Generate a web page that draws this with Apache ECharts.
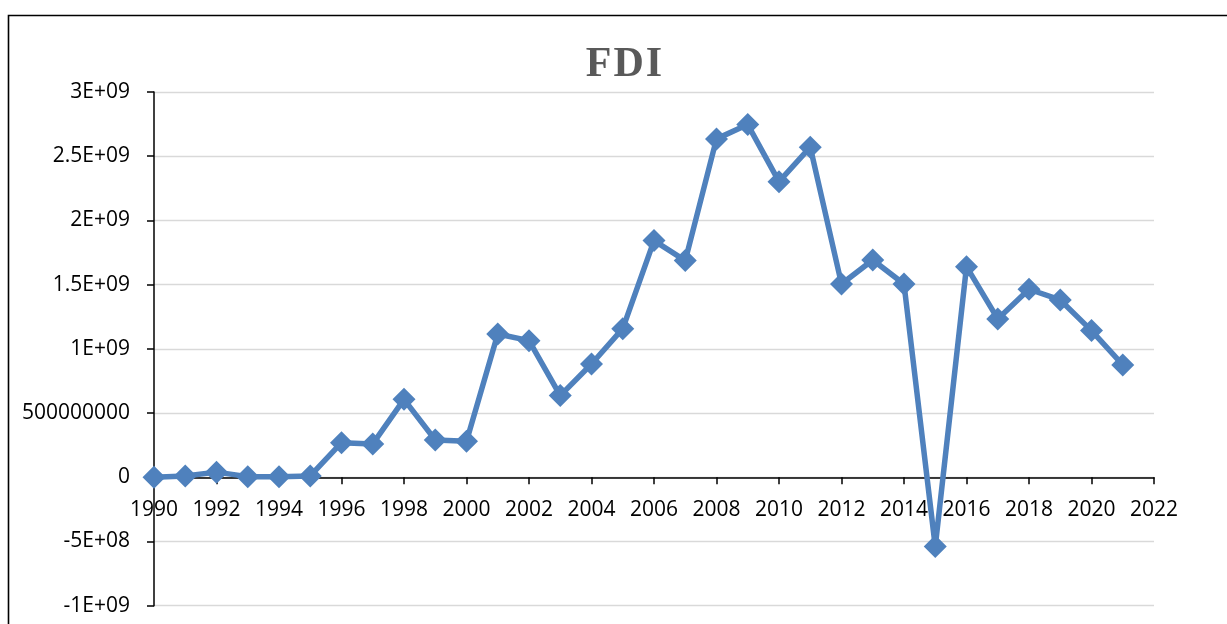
<!DOCTYPE html>
<html>
<head>
<meta charset="utf-8">
<script src="https://cdn.jsdelivr.net/npm/echarts@6/dist/echarts.min.js"></script>
<style>
html,body{margin:0;padding:0;background:#fff;}
#chart{width:1227px;height:624px;}
</style>
</head>
<body>
<div id="chart"></div>
<script>
var years = [1990,1991,1992,1993,1994,1995,1996,1997,1998,1999,2000,2001,2002,2003,2004,2005,2006,2007,2008,2009,2010,2011,2012,2013,2014,2015,2016,2017,2018,2019,2020,2021];
var fdi = [0,1e7,4e7,5e6,5e6,1e7,2.69e8,2.6e8,6.07e8,2.9e8,2.8e8,1.116e9,1.064e9,6.36e8,8.82e8,1.157e9,1.843e9,1.687e9,2.635e9,2.746e9,2.302e9,2.57e9,1.505e9,1.692e9,1.505e9,-5.4e8,1.64e9,1.233e9,1.464e9,1.381e9,1.142e9,8.75e8];
var yTickLabels = ['-1E+09','-5E+08','0','500000000','1E+09','1.5E+09','2E+09','2.5E+09','3E+09'];
var yMin = -1e9, yMax = 3e9, yStep = 5e8;
var xMin = 1990, xMax = 2022, xStep = 2;
var titleChars = ['F','D','I'];

var gridTop = 92, gridBottom = 18.3, H = 624;
var plotH = H - gridTop - gridBottom;
// distance from grid bottom up to the zero line, via the y scale
var zeroOffset = plotH * (0 - yMin) / (yMax - yMin);

var chart = echarts.init(document.getElementById('chart'), null, {renderer:'canvas'});
var pts = years.map(function(y,i){return [y, fdi[i]];});
chart.setOption({
  animation:false,
  backgroundColor:'#fff',
  title:{
    text: titleChars.map(function(c){return '{a|'+c+'}';}).join(''),
    left:619, textAlign:'center', top:39,
    textStyle:{
      rich:{a:{fontFamily:'Liberation Serif', fontWeight:'bold', fontSize:42, color:'#595959', padding:[0,1,0,1]}}
    }
  },
  grid:{left:154, right:73, top:gridTop, bottom:gridBottom, containLabel:false, outerBoundsMode:'none'},
  xAxis:{
    type:'value', min:xMin, max:xMax, interval:xStep,
    offset:-zeroOffset,
    axisLine:{onZero:false, lineStyle:{color:'#000', width:1.5}},
    axisTick:{show:true, length:7, lineStyle:{color:'#000', width:1.5}},
    axisLabel:{margin:22, fontFamily:'Open Sans', fontSize:21, color:'#000',
      formatter:function(v){return String(v);}},
    splitLine:{show:false}
  },
  yAxis:{
    type:'value', min:yMin, max:yMax, interval:yStep,
    axisLine:{show:true, onZero:false, lineStyle:{color:'#000', width:1.5}},
    axisTick:{show:true, length:7, lineStyle:{color:'#000', width:1.5}},
    axisLabel:{margin:24, fontFamily:'Open Sans', fontSize:21, color:'#000',
      formatter:function(v){var i=Math.round((v-yMin)/yStep);return yTickLabels[i];}},
    splitLine:{show:true, lineStyle:{color:'#D9D9D9', width:1.3}}
  },
  series:[{
    type:'line', data:pts, symbol:'diamond', symbolSize:23,
    lineStyle:{color:'#4F81BD', width:5.5},
    itemStyle:{color:'#4F81BD'}
  }],
  graphic:[{
    type:'polyline', silent:true,
    shape:{points:[[8.5,640],[8.5,15.5],[1240,15.5]]},
    style:{stroke:'#000', lineWidth:1.6, fill:null}
  }]
});
</script>
</body>
</html>
